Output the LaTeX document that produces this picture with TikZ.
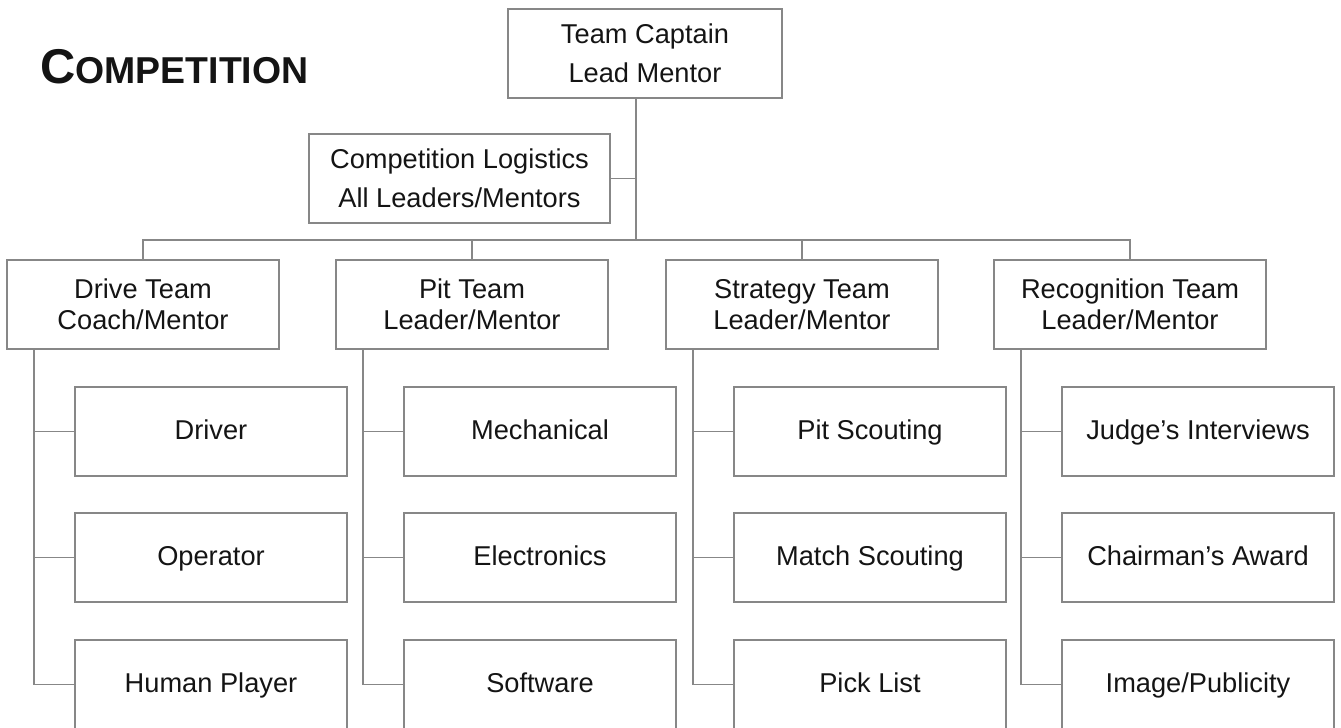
\documentclass[tikz,border=0pt]{standalone}
\usepackage{fontspec}
\setmainfont{Liberation Sans}
\definecolor{linegray}{RGB}{135,135,135}
\definecolor{inkblack}{RGB}{20,20,20}
\tikzset{
  box/.style={rectangle,draw=linegray,line width=1.05pt,minimum width=5.44cm,minimum height=1.78cm,
    inner sep=0pt,align=center,text=inkblack,font=\fontsize{15.5}{17.5}\selectfont},
  headbox/.style={box,font=\fontsize{15.5}{22}\selectfont},
  leafbox/.style={box,text height=12pt,text depth=2.6pt},
  link/.style={draw=linegray,line width=1.05pt}
}
\begin{document}
\begin{tikzpicture}[x=0.02cm,y=-0.02cm]
			\useasboundingbox (0,0) rectangle (1341,727);
			%Title
			\node[anchor=base west,inner sep=0pt,text=inkblack] (title) at (40,83)
			  {\bfseries\fontsize{27.8}{27.8}\selectfont C\fontsize{21.3}{21.3}\selectfont OMPETITION};
			%Top
			\node[headbox,minimum width=5.48cm] (captain) at (645,53.5) {Team Captain\\Lead Mentor};
			\node[headbox,minimum width=6.02cm] (logistics) at (459.5,178.5) {Competition Logistics\\All Leaders/Mentors};
			\coordinate (bus) at (636,240);
			\draw[link] (captain.south -| bus) -- (bus);
			\draw[link] (logistics.east) -- (logistics.east -| bus);
			%Teams
			\node[box] (drive) at (143,304.5) {Drive Team\\Coach/Mentor};
			\node[box] (pit) at (472,304.5) {Pit Team\\Leader/Mentor};
			\node[box] (strategy) at (802,304.5) {Strategy Team\\Leader/Mentor};
			\node[box] (recognition) at (1130,304.5) {Recognition Team\\Leader/Mentor};
			\draw[link] (drive.north) |- (bus) -| (recognition.north);
			\draw[link] (pit.north) -- (pit.north |- bus);
			\draw[link] (strategy.north) -- (strategy.north |- bus);
			%Drive team
			\node[leafbox] (driver) at (211,431.5) {Driver};
			\node[leafbox] (operator) at (211,557.5) {Operator};
			\node[leafbox] (human) at (211,684.5) {Human Player};
			\coordinate (drivestem) at ([xshift=0.55cm]drive.south west);
			\draw[link] (drivestem) |- (human.west) (drivestem |- driver.west) -- (driver.west) (drivestem |- operator.west) -- (operator.west);
			%Pit team
			\node[leafbox] (mechanical) at (540,431.5) {Mechanical};
			\node[leafbox] (electronics) at (540,557.5) {Electronics};
			\node[leafbox] (software) at (540,684.5) {Software};
			\coordinate (pitstem) at ([xshift=0.56cm]pit.south west);
			\draw[link] (pitstem) |- (software.west) (pitstem |- mechanical.west) -- (mechanical.west) (pitstem |- electronics.west) -- (electronics.west);
			%Strategy team
			\node[leafbox] (pitscouting) at (870,431.5) {Pit Scouting};
			\node[leafbox] (matchscouting) at (870,557.5) {Match Scouting};
			\node[leafbox] (picklist) at (870,684.5) {Pick List};
			\coordinate (strategystem) at ([xshift=0.55cm]strategy.south west);
			\draw[link] (strategystem) |- (picklist.west) (strategystem |- pitscouting.west) -- (pitscouting.west) (strategystem |- matchscouting.west) -- (matchscouting.west);
			%Recognition team
			\node[leafbox] (interviews) at (1198,431.5) {Judge’s Interviews};
			\node[leafbox] (award) at (1198,557.5) {Chairman’s Award};
			\node[leafbox] (publicity) at (1198,684.5) {Image/Publicity};
			\coordinate (recognitionstem) at ([xshift=0.56cm]recognition.south west);
			\draw[link] (recognitionstem) |- (publicity.west) (recognitionstem |- interviews.west) -- (interviews.west) (recognitionstem |- award.west) -- (award.west);
\end{tikzpicture}
\end{document}
